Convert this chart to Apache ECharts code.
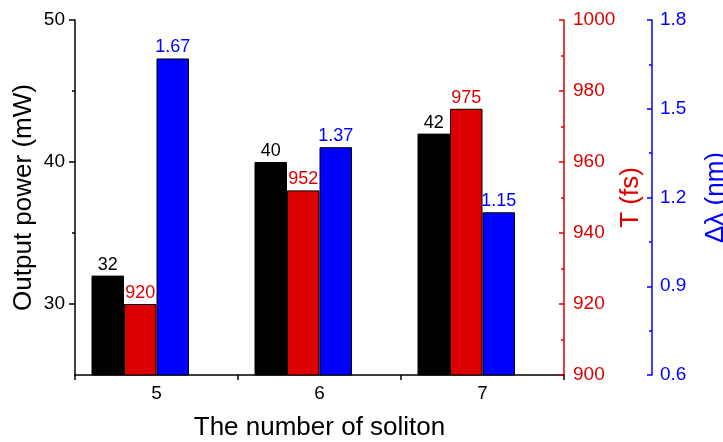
<!DOCTYPE html>
<html>
<head>
<meta charset="utf-8">
<title>Soliton output</title>
<script src="https://cdn.jsdelivr.net/npm/echarts@6/dist/echarts.min.js"></script>
<style>
  html, body { margin: 0; padding: 0; background: #fff; }
  #chart { width: 723px; height: 442px; }
</style>
</head>
<body>
<div id="chart"></div>
<script>
// Soliton count on the x axis, three quantities on three value axes
const categories = ['5', '6', '7'];
const outputPower = [32, 40, 42];        // mW
const pulseWidth = [920, 952, 975];      // fs
const spectralWidth = [1.67, 1.37, 1.15]; // nm

const powerTicks = [30, 40, 50];
const powerMinorTicks = [35, 45];

const FONT = 'Liberation Sans, Arial, sans-serif';
const BLACK = '#000000';
const RED = '#dc0000';
const BLUE = '#0000ff';
const BAR_W = 32.5;

function barSeries(data, axis, color) {
  return {
    type: 'bar',
    data: data,
    yAxisIndex: axis,
    barWidth: BAR_W,
    barGap: '0%',
    itemStyle: { color: color, borderColor: '#000', borderWidth: 1 },
    label: {
      show: true,
      position: 'top',
      distance: 2,
      color: color,
      fontFamily: FONT,
      fontSize: 18
    },
    emphasis: { disabled: true }
  };
}

const chart = echarts.init(document.getElementById('chart'));
chart.setOption({
  animation: false,
  backgroundColor: '#fff',
  textStyle: { fontFamily: FONT },
  grid: { left: 75, right: 159, top: 20, bottom: 67, outerBoundsMode: 'none', containLabel: false },
  xAxis: {
    type: 'category',
    data: categories,
    name: 'The number of soliton',
    nameLocation: 'middle',
    nameGap: 40,
    nameMoveOverlap: false,
    nameTextStyle: { fontSize: 26, color: BLACK, fontFamily: FONT },
    axisLine: { lineStyle: { color: BLACK, width: 1.5 } },
    axisTick: { show: true, length: 5, lineStyle: { color: BLACK, width: 1.5 } },
    axisLabel: { fontSize: 19, color: BLACK, margin: 9, fontFamily: FONT },
    splitLine: { show: false }
  },
  yAxis: [
    {
      type: 'value',
      position: 'left',
      min: 25, max: 50, interval: 5,
      name: 'Output power (mW)',
      nameLocation: 'middle',
      nameGap: 38,
      nameMoveOverlap: false,
      nameTextStyle: { fontSize: 26, color: BLACK, fontFamily: FONT },
      axisLine: { show: true, lineStyle: { color: BLACK, width: 1.5 } },
      axisTick: { show: true, length: 6, customValues: powerTicks, lineStyle: { color: BLACK, width: 1.5 } },
      axisLabel: { fontSize: 19, color: BLACK, margin: 10, customValues: powerTicks, fontFamily: FONT },
      splitLine: { show: false }
    },
    {
      type: 'value',
      position: 'right',
      min: 900, max: 1000, interval: 20,
      name: 'T (fs)',
      nameLocation: 'middle',
      nameRotate: 90,
      nameGap: 54,
      nameMoveOverlap: false,
      nameTextStyle: { fontSize: 26, color: RED, fontFamily: FONT },
      axisLine: { show: true, lineStyle: { color: RED, width: 1.5 } },
      axisTick: { show: true, inside: true, length: 5, lineStyle: { color: RED, width: 1.5 } },
      minorTick: { show: true, splitNumber: 2, length: 3, lineStyle: { color: RED, width: 1.5 } },
      axisLabel: { fontSize: 19, color: RED, margin: 9, fontFamily: FONT, formatter: v => String(v) },
      splitLine: { show: false }
    },
    {
      type: 'value',
      position: 'right',
      offset: 88,
      min: 0.6, max: 1.8, interval: 0.3,
      name: 'Δλ (nm)',
      nameLocation: 'middle',
      nameRotate: 90,
      nameGap: 51,
      nameMoveOverlap: false,
      nameTextStyle: { fontSize: 26, color: BLUE, fontFamily: FONT },
      axisLine: { show: true, lineStyle: { color: BLUE, width: 1.5 } },
      axisTick: { show: true, inside: true, length: 5, lineStyle: { color: BLUE, width: 1.5 } },
      minorTick: { show: true, splitNumber: 2, length: 3, lineStyle: { color: BLUE, width: 1.5 } },
      axisLabel: {
        fontSize: 19, color: BLUE, margin: 8, fontFamily: FONT,
        formatter: v => v.toFixed(1)
      },
      splitLine: { show: false }
    },
    {
      // minor ticks of the power axis
      type: 'value',
      position: 'left',
      min: 25, max: 50, interval: 5,
      axisLine: { show: false },
      axisTick: { show: true, length: 3, customValues: powerMinorTicks, lineStyle: { color: BLACK, width: 1.5 } },
      axisLabel: { show: false },
      splitLine: { show: false }
    }
  ],
  series: [
    barSeries(outputPower, 0, BLACK),
    barSeries(pulseWidth, 1, RED),
    barSeries(spectralWidth, 2, BLUE),
    // empty slot so each group sits left of the category centre
    { type: 'bar', data: [], yAxisIndex: 0, barWidth: BAR_W, barGap: '0%', silent: true }
  ]
});
</script>
</body>
</html>
